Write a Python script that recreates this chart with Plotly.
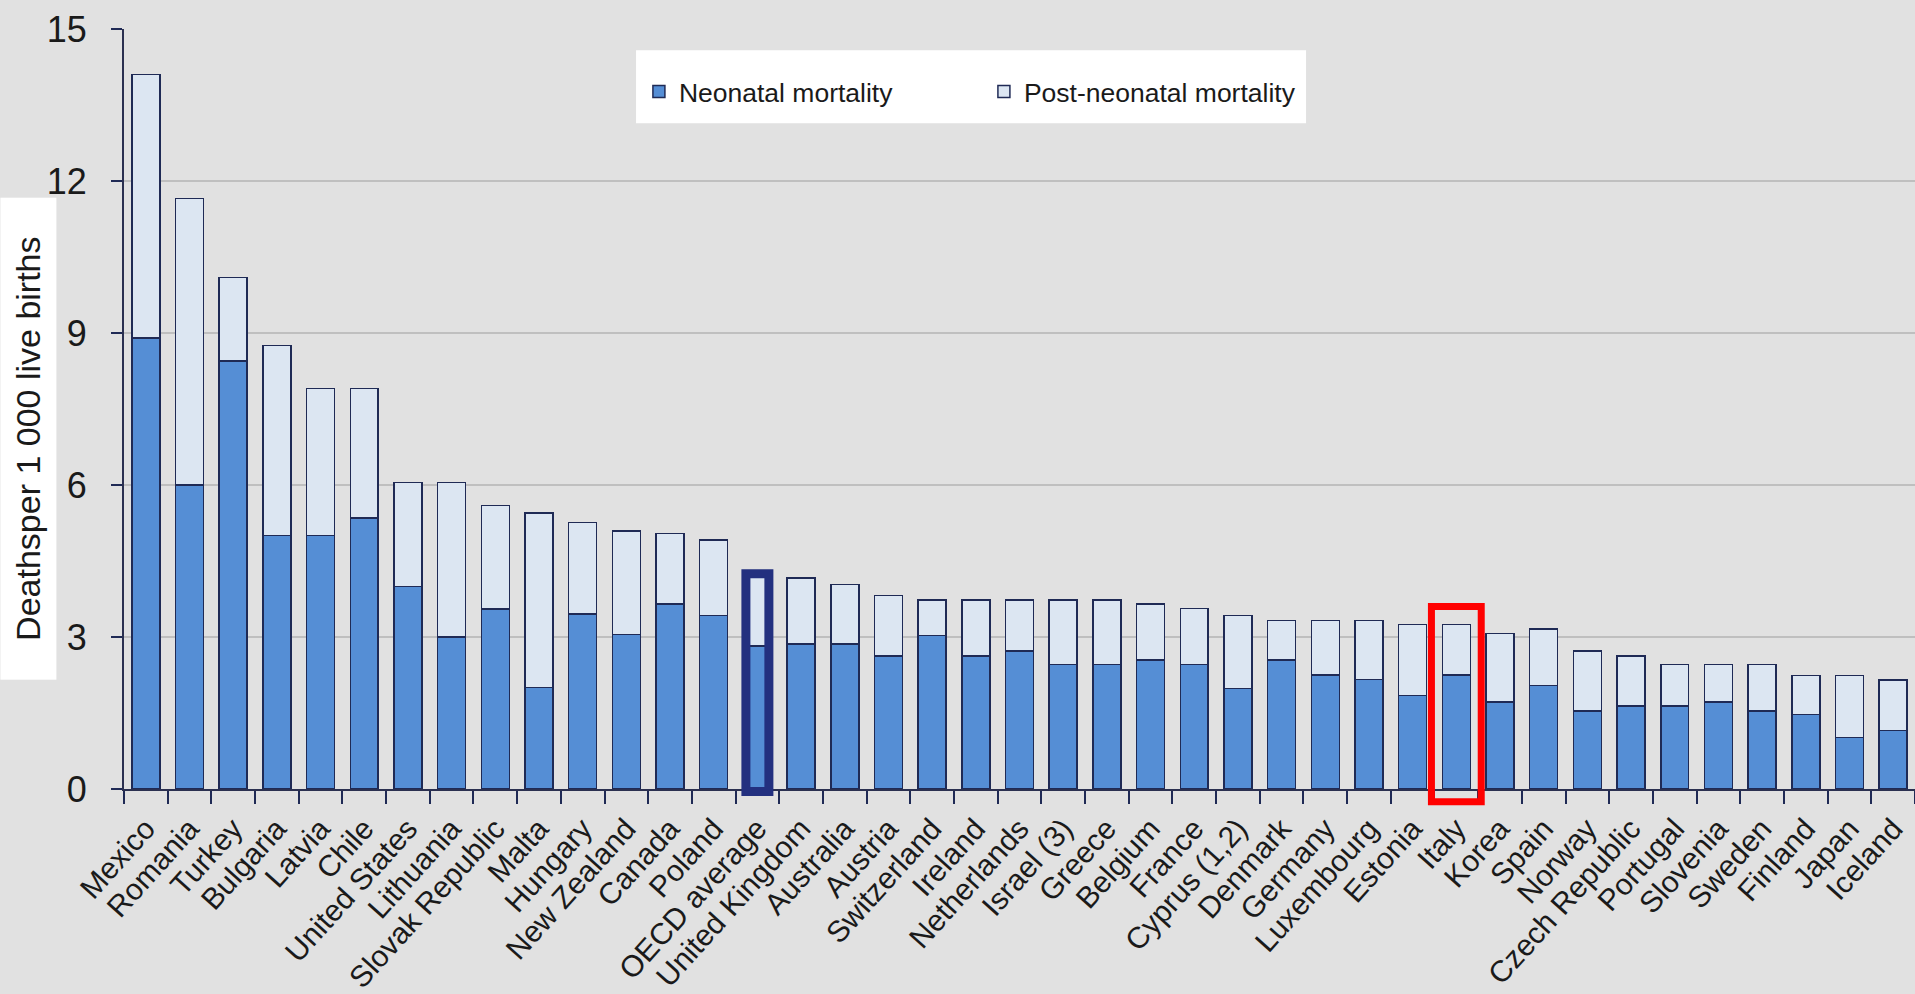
import plotly.graph_objects as go

# ---- data ----
countries = ["Mexico", "Romania", "Turkey", "Bulgaria", "Latvia", "Chile", "United States",
             "Lithuania", "Slovak Republic", "Malta", "Hungary", "New Zealand", "Canada", "Poland",
             "OECD average", "United Kingdom", "Australia", "Austria", "Switzerland", "Ireland",
             "Netherlands", "Israel (3)", "Greece", "Belgium", "France", "Cyprus (1,2)", "Denmark",
             "Germany", "Luxembourg", "Estonia", "Italy", "Korea", "Spain", "Norway",
             "Czech Republic", "Portugal", "Slovenia", "Sweden", "Finland", "Japan", "Iceland"]

neonatal = [8.90, 6.00, 8.45, 5.00, 5.00, 5.35, 4.00, 3.00, 3.55, 2.00, 3.45, 3.05, 3.65, 3.42,
            2.82, 2.86, 2.86, 2.63, 3.03, 2.63, 2.72, 2.46, 2.46, 2.55, 2.46, 1.98, 2.55,
            2.25, 2.16, 1.85, 2.25, 1.72, 2.04, 1.54, 1.64, 1.64, 1.72, 1.54, 1.47, 1.02, 1.15]

post_neonatal = [5.20, 5.65, 1.65, 3.75, 2.90, 2.55, 2.05, 3.05, 2.05, 3.45, 1.81, 2.04, 1.39, 1.49,
                 1.36, 1.30, 1.18, 1.19, 0.70, 1.10, 1.01, 1.27, 1.27, 1.10, 1.10, 1.44, 0.78,
                 1.08, 1.17, 1.40, 1.00, 1.35, 1.12, 1.18, 0.99, 0.82, 0.74, 0.92, 0.77, 1.22, 1.00]

y_ticks = [0, 3, 6, 9, 12, 15]
grid_values = [3, 6, 9, 12]
y_max = 15

BG = "#e1e1e1"
OUTLINE = "#1f2a55"

fig = go.Figure()
fig.add_bar(name="Neonatal mortality", x=countries, y=neonatal,
            marker=dict(color="#558ed5", line=dict(color=OUTLINE, width=1.5)))
fig.add_bar(name="Post-neonatal mortality", x=countries, y=post_neonatal,
            marker=dict(color="#dce6f2", line=dict(color=OUTLINE, width=1.5)))

shapes = []
for g in grid_values:
    shapes.append(dict(type="line", xref="paper", x0=0, x1=1, yref="y", y0=g, y1=g,
                       line=dict(color="#b3b3b3", width=1.5), layer="below"))

# legend white box
shapes.append(dict(type="rect", xref="paper", yref="paper", x0=0.2859, x1=0.660,
                   y0=0.876, y1=0.972, fillcolor="white", line=dict(width=0), layer="above"))

# highlight boxes
i_oecd = countries.index("OECD average")
i_italy = countries.index("Italy")
shapes.append(dict(type="rect", xref="x", yref="paper",
                   x0=i_oecd - 0.263, x1=i_oecd + 0.263,
                   y0=-0.05 / y_max, y1=4.25 / y_max,
                   line=dict(color="#23307f", width=9), fillcolor="rgba(0,0,0,0)", layer="above"))
shapes.append(dict(type="rect", xref="x", yref="paper",
                   x0=i_italy - 0.57, x1=i_italy + 0.57,
                   y0=-0.25 / y_max, y1=3.6 / y_max,
                   line=dict(color="#ff0000", width=7), fillcolor="rgba(0,0,0,0)", layer="above"))

fig.update_layout(
    barmode="stack", bargap=0.36,
    width=1915, height=994,
    margin=dict(l=124, r=0, t=29, b=205),
    paper_bgcolor=BG, plot_bgcolor=BG,
    font=dict(family="Liberation Sans, Arial, sans-serif", color="#1a1a1a"),
    showlegend=True,
    legend=dict(orientation="h", x=0.2875, y=0.9174, xanchor="left", yanchor="middle",
                bgcolor="rgba(0,0,0,0)", font=dict(size=26.5, color="#1a1a1a"),
                traceorder="normal", entrywidth=300, entrywidthmode="pixels"),
    shapes=shapes,
    annotations=[dict(text="Deathsper 1 000 live births", xref="paper", yref="paper",
                      x=-0.0533, y=0.461, xanchor="center", yanchor="middle",
                      textangle=-90, showarrow=False, width=479, height=53,
                      bgcolor="white", font=dict(size=34, color="#1a1a1a"))],
)

fig.update_xaxes(type="category", range=[-0.5, len(countries) - 0.5],
                 tickson="boundaries", ticks="outside", ticklen=13, tickwidth=1.5,
                 tickcolor=OUTLINE, showline=True, linecolor="#2b3050", linewidth=2,
                 tickangle=-48, ticklabelstandoff=8,
                 tickfont=dict(size=30, color="#1a1a1a"), showgrid=False)
fig.update_yaxes(range=[0, y_max], tickvals=y_ticks, ticks="outside", ticklen=11, tickwidth=1.5,
                 tickcolor=OUTLINE, showline=True, linecolor="#2b3050", linewidth=2,
                 showgrid=False, zeroline=False, ticklabelstandoff=17,
                 tickfont=dict(size=36, color="#1a1a1a"))

fig.write_html("out.html")
